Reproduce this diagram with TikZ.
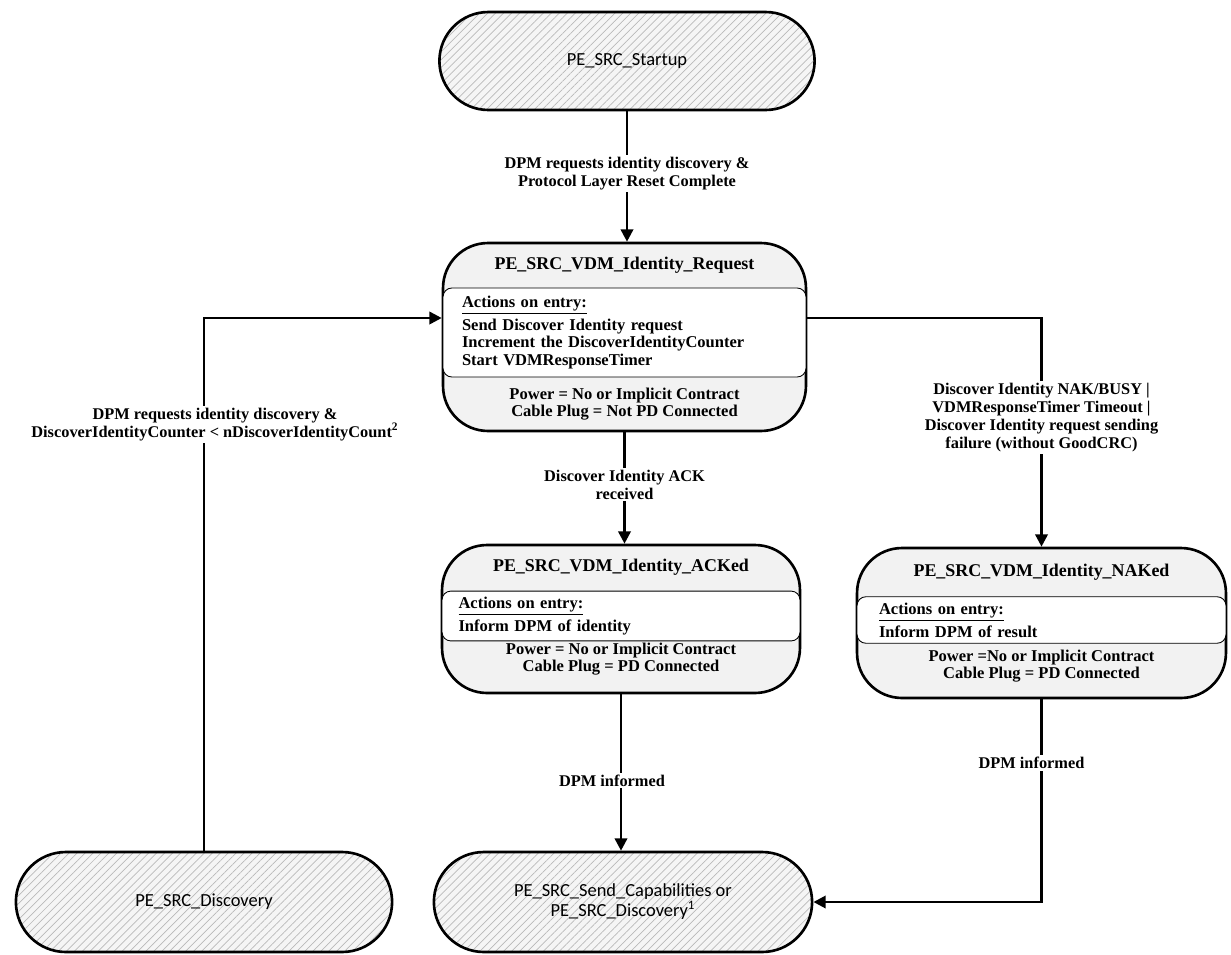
\documentclass[tikz,border=0pt]{standalone}
\usepackage{fontspec}
\setmainfont{Liberation Serif}
\newfontfamily\statefont{Carlito}
\usepackage{tikz}
\usetikzlibrary{arrows.meta,shapes.misc,patterns.meta}

\newcommand{\titlesize}{\fontsize{10.2}{12}\selectfont\bfseries}
\newcommand{\bodysize}{\fontsize{9.4}{10}\selectfont\bfseries}
\newcommand{\labsize}{\fontsize{9.3}{10.3}\selectfont\bfseries}

\begin{document}
\begin{tikzpicture}[x=0.02cm,y=-0.02cm,
    endstate/.style={shape=rounded rectangle,draw,line width=1.5pt,
      preaction={fill=gray!8},
      pattern={Lines[angle=45,distance=3.2pt,line width=0.4pt]},pattern color=gray!55,
      font=\statefont\fontsize{10.5}{9.8}\selectfont,align=center},
    statebox/.style={draw,line width=1.5pt,rounded corners=0.9cm,fill=gray!10},
    actbox/.style={draw,line width=0.5pt,rounded corners=5pt,fill=white,
      text width=6.5cm,align=left,font=\bodysize},
    cond/.style={align=center,font=\bodysize},
    trans/.style={line width=1.5pt,-{Triangle[length=7pt,width=7pt]}},
    translabel/.style={fill=white,align=center,font=\labsize,inner sep=1pt}]

  \useasboundingbox (0,0) rectangle (1231,954);

  % Start and end states
  \node[endstate,minimum width=7.74cm,minimum height=1.96cm] (startup) at (627,61)
    {PE\_SRC\_Startup};
  \node[endstate,minimum width=7.76cm,minimum height=2cm] (discovery) at (204,902)
    {PE\_SRC\_Discovery};
  \node[endstate,minimum width=7.8cm,minimum height=2cm] (sendcap) at (623,902)
    {PE\_SRC\_Send\_Capabilities or\\PE\_SRC\_Discovery\textsuperscript{1}};

  % Identity request state
  \node[statebox,minimum width=7.26cm,minimum height=3.76cm] (request) at (624.5,337) {};
  \node[font=\titlesize] (reqtitle) at (624.5,265) {PE\_SRC\_VDM\_Identity\_Request};
  \node[actbox,minimum width=7.26cm,minimum height=1.78cm] (reqact) at (624.5,332.5)
    {\underline{Actions on entry:}\\[1.5pt]
     Send Discover Identity request\\
     Increment the DiscoverIdentityCounter\\
     Start VDMResponseTimer};
  \node[cond] (reqcond) at (624.5,404)
    {Power = No or Implicit Contract\\Cable Plug = Not PD Connected};

  % ACKed state
  \node[statebox,minimum width=7.16cm,minimum height=2.96cm] (acked) at (621,619) {};
  \node[font=\titlesize] (acktitle) at (621,567) {PE\_SRC\_VDM\_Identity\_ACKed};
  \node[actbox,minimum width=7.16cm,minimum height=0.96cm] (ackact) at (621,616)
    {\underline{Actions on entry:}\\[1.5pt]Inform DPM of identity};
  \node[cond] (ackcond) at (621,659)
    {Power = No or Implicit Contract\\Cable Plug = PD Connected};

  % NAKed state
  \node[statebox,minimum width=7.38cm,minimum height=3cm] (naked) at (1041.5,623) {};
  \node[font=\titlesize] (naktitle) at (1041.5,572) {PE\_SRC\_VDM\_Identity\_NAKed};
  \node[actbox,minimum width=7.38cm,minimum height=0.92cm] (nakact) at (1041.5,620)
    {\underline{Actions on entry:}\\[1.5pt]Inform DPM of result};
  \node[cond] (nakcond) at (1041.5,666)
    {Power =No or Implicit Contract\\Cable Plug = PD Connected};

  % Transitions
  \draw[trans] (startup.south) -- (startup.south |- request.north)
    node[translabel,pos=0.48]
    {DPM requests identity discovery \&\\Protocol Layer Reset Complete};
  \draw[trans] (discovery.north) |- ([yshift=0.38cm]request.west)
    node[translabel,pos=0.4,xshift=0.22cm]
    {DPM requests identity discovery \&\\
     DiscoverIdentityCounter < nDiscoverIdentityCount\textsuperscript{2}};
  \draw[trans] (request.south) -- (request.south |- acked.north)
    node[translabel,pos=0.47] {Discover Identity ACK\\received};
  \draw[trans] ([yshift=0.38cm]request.east) -| (naked.north)
    node[translabel,pos=0.717]
    {Discover Identity NAK/BUSY |\\VDMResponseTimer Timeout |\\
     Discover Identity request sending\\failure (without GoodCRC)};
  \draw[trans] (acked.south) -- (acked.south |- sendcap.north)
    node[translabel,pos=0.55,xshift=-0.18cm] {DPM informed};
  \draw[trans] (naked.south) |- (sendcap.east)
    node[translabel,pos=0.157,xshift=-0.2cm] {DPM informed};
\end{tikzpicture}
\end{document}
